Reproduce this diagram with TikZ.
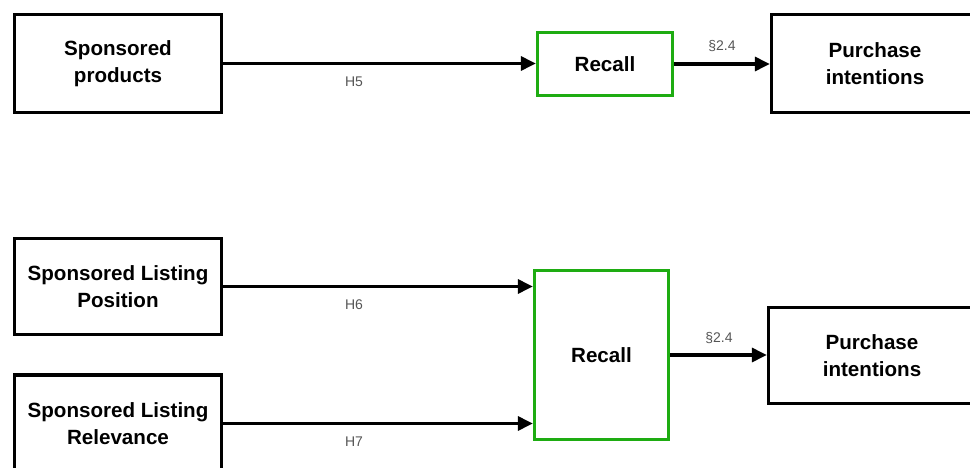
\documentclass[tikz,border=0pt]{standalone}
\usepackage{fontspec}
\setmainfont{Liberation Sans}
\usetikzlibrary{arrows.meta}
\definecolor{boxgreen}{RGB}{30,172,18}
\definecolor{lblgray}{RGB}{85,85,85}
\tikzset{
  blackbox/.style={draw=black, line width=3.3pt, fill=white, align=center, inner sep=0pt,
    font=\fontsize{20.6}{27}\selectfont\bfseries},
  greenbox/.style={draw=boxgreen, line width=3.3pt, fill=white, align=center, inner sep=0pt,
    font=\fontsize{20.6}{27}\selectfont\bfseries},
  link/.style={line width=3.2pt, -{Triangle[length=15pt,width=14pt]}},
  lbl/.style={text=lblgray, font=\fontsize{14}{16}\selectfont, inner sep=0pt}
}
\begin{document}
\begin{tikzpicture}[x=1pt,y=-1pt]
\useasboundingbox (0,0) rectangle (970,468);
\clip (0,0) rectangle (970,468);
% top row
\node[blackbox, minimum width=207pt, minimum height=98pt] (sp) at (118,63.5) {Sponsored\\products};
\node[greenbox, minimum width=135pt, minimum height=63pt] (rc1) at (605,64) {Recall};
\node[blackbox, minimum width=207pt, minimum height=98pt] (pi1) at (875,63.5) {Purchase\\intentions};
\draw[link] (sp.east) -- (sp.east -| rc1.west);
\draw[link] (rc1.east) -- (rc1.east -| pi1.west);
\node[lbl] (h5) at (354,82) {H5};
\node[lbl] (s1) at (722,46) {§2.4};
% bottom rows
\node[blackbox, minimum width=207pt, minimum height=96pt] (pos) at (118,286.5) {Sponsored Listing\\Position};
\node[blackbox, minimum width=207pt, minimum height=97pt] (rel) at (118,423.5) {Sponsored Listing\\Relevance};
\node[greenbox, minimum width=134pt, minimum height=169pt] (rc2) at (601.5,355) {Recall};
\node[blackbox, minimum width=207pt, minimum height=96pt] (pi2) at (872,355.5) {Purchase\\intentions};
\draw[link] (pos.east) -- (pos.east -| rc2.west);
\draw[link] (rel.east) -- (rel.east -| rc2.west);
\draw[link] (rc2.east) -- (rc2.east -| pi2.west);
\node[lbl] (h6) at (354,305) {H6};
\node[lbl] (h7) at (354,442) {H7};
\node[lbl] (s2) at (719,338) {§2.4};
\end{tikzpicture}
\end{document}
